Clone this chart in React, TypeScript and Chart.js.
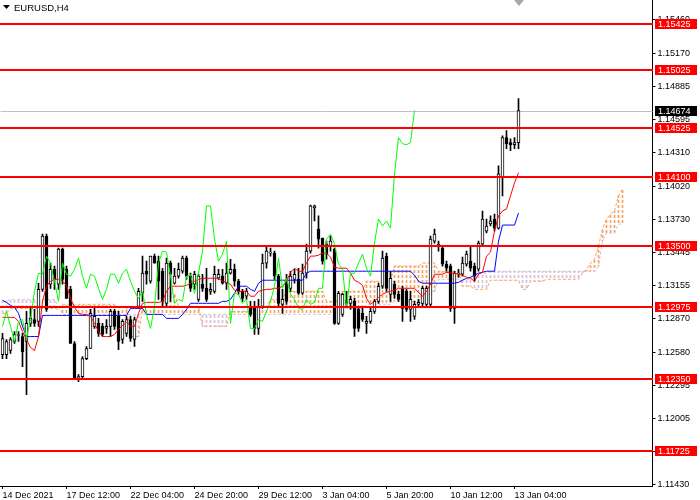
import { useEffect, useRef } from 'react';
import { Chart, registerables } from 'chart.js';

Chart.register(...registerables);

// --- chart data (EURUSD H4) ---
const symbolTitle = 'EURUSD,H4';
const xTickLabels = ['14 Dec 2021', '17 Dec 12:00', '22 Dec 04:00', '24 Dec 20:00', '29 Dec 12:00', '3 Jan 04:00', '5 Jan 20:00', '10 Jan 12:00', '13 Jan 04:00'];
const X_TICK_STEP = 16;
const BAR_SLOTS = 163;
const CHIKOU_SHIFT = 26;
const Y_MIN = 1.11421;
const Y_MAX = 1.15632;

const yTicks = [1.1143, 1.1172, 1.12005, 1.12295, 1.1258, 1.1287, 1.13155, 1.13445, 1.1373, 1.1402, 1.1431, 1.14595, 1.14885, 1.1517, 1.1546];
const levels = [1.15425, 1.15025, 1.14525, 1.141, 1.135, 1.12975, 1.1235, 1.11725];

const opens = [
  1.12560, 1.12560, 1.12595, 1.12673, 1.12725, 1.12716, 1.12673, 1.12830, 1.12864, 1.12847,
  1.13125, 1.13587, 1.13169, 1.13299, 1.13169, 1.13473, 1.13299, 1.13125, 1.12656, 1.12351,
  1.12368, 1.12525, 1.12612, 1.12804, 1.12830, 1.12804, 1.12786, 1.12804, 1.12934, 1.12891,
  1.12690, 1.12743, 1.12864, 1.12690, 1.12978, 1.13091, 1.13282, 1.13195, 1.13413, 1.13369,
  1.13282, 1.13004, 1.13352, 1.13178, 1.13239, 1.13282, 1.13395, 1.13239, 1.13169, 1.13038,
  1.13169, 1.13134, 1.13108, 1.13108, 1.13221, 1.13239, 1.13178, 1.13265, 1.13299, 1.13195,
  1.13108, 1.13065, 1.12978, 1.12978, 1.12786, 1.12978, 1.13352, 1.13439, 1.13439, 1.13239,
  1.12995, 1.13195, 1.13134, 1.13212, 1.13212, 1.13091, 1.13265, 1.13456, 1.13830, 1.13647,
  1.13569, 1.13517, 1.13500, 1.13473, 1.12830, 1.12908, 1.13038, 1.13004, 1.13021, 1.12951,
  1.12917, 1.12830, 1.12847, 1.12934, 1.13021, 1.13152, 1.13413, 1.13082, 1.13169, 1.13082,
  1.13125, 1.13108, 1.12951, 1.12891, 1.12995, 1.13004, 1.12995, 1.12995, 1.13543, 1.13500,
  1.13482, 1.13343, 1.13326, 1.12960, 1.13256, 1.13256, 1.13343, 1.13369, 1.13326, 1.13299,
  1.13517, 1.13630, 1.13691, 1.13734, 1.13656, 1.14091, 1.14439, 1.14396, 1.14378, 1.14396,
];
const highs = [
  1.12743, 1.12690, 1.12708, 1.12760, 1.12760, 1.12743, 1.12934, 1.12960, 1.12951, 1.13178,
  1.13604, 1.13604, 1.13352, 1.13326, 1.13482, 1.13482, 1.13326, 1.13152, 1.12673, 1.12386,
  1.12543, 1.12630, 1.12951, 1.12960, 1.12873, 1.12830, 1.12864, 1.12951, 1.12951, 1.12934,
  1.12864, 1.12891, 1.12891, 1.12882, 1.13134, 1.13413, 1.13369, 1.13413, 1.13430, 1.13413,
  1.13308, 1.13395, 1.13369, 1.13308, 1.13352, 1.13413, 1.13413, 1.13265, 1.13282, 1.13256,
  1.13256, 1.13308, 1.13178, 1.13326, 1.13299, 1.13299, 1.13352, 1.13386, 1.13343, 1.13212,
  1.13125, 1.13134, 1.13021, 1.13021, 1.13038, 1.13430, 1.13500, 1.13482, 1.13456, 1.13256,
  1.13125, 1.13256, 1.13282, 1.13299, 1.13308, 1.13343, 1.13517, 1.13856, 1.13856, 1.13761,
  1.13569, 1.13543, 1.13587, 1.13482, 1.13108, 1.13091, 1.13108, 1.13065, 1.13047, 1.12978,
  1.12978, 1.12891, 1.12960, 1.13038, 1.13178, 1.13456, 1.13439, 1.13282, 1.13195, 1.13108,
  1.13152, 1.13125, 1.13108, 1.13021, 1.13038, 1.13152, 1.13152, 1.13587, 1.13647, 1.13543,
  1.13500, 1.13369, 1.13343, 1.13282, 1.13299, 1.13404, 1.13456, 1.13500, 1.13352, 1.13543,
  1.13804, 1.13734, 1.13761, 1.13778, 1.14196, 1.14456, 1.14500, 1.14430, 1.14439, 1.14778,
];
const lows = [
  1.12525, 1.12525, 1.12569, 1.12656, 1.12673, 1.12456, 1.12212, 1.12804, 1.12804, 1.12804,
  1.13108, 1.12934, 1.13134, 1.13125, 1.13125, 1.13169, 1.13047, 1.12656, 1.12342, 1.12325,
  1.12351, 1.12516, 1.12612, 1.12786, 1.12716, 1.12716, 1.12743, 1.12716, 1.12777, 1.12603,
  1.12656, 1.12716, 1.12673, 1.12630, 1.12960, 1.13021, 1.13169, 1.13178, 1.13352, 1.13038,
  1.12978, 1.12978, 1.13021, 1.13169, 1.13221, 1.13265, 1.13212, 1.13108, 1.13125, 1.13021,
  1.13108, 1.13021, 1.13082, 1.13091, 1.13212, 1.13169, 1.13125, 1.13256, 1.13152, 1.13082,
  1.13021, 1.13038, 1.12891, 1.12734, 1.12734, 1.12960, 1.13308, 1.13413, 1.13212, 1.12978,
  1.12917, 1.12995, 1.13108, 1.13178, 1.13082, 1.13082, 1.13221, 1.13439, 1.13717, 1.13482,
  1.13343, 1.13386, 1.13456, 1.12821, 1.12821, 1.12891, 1.12978, 1.12951, 1.12716, 1.12760,
  1.12847, 1.12743, 1.12830, 1.12917, 1.13004, 1.13134, 1.13108, 1.13021, 1.13047, 1.13021,
  1.12847, 1.12934, 1.12847, 1.12864, 1.12978, 1.12978, 1.12978, 1.12978, 1.13526, 1.13456,
  1.13326, 1.13282, 1.12934, 1.12830, 1.13230, 1.13239, 1.13326, 1.13282, 1.13195, 1.13282,
  1.13500, 1.13613, 1.13674, 1.13630, 1.13647, 1.13935, 1.14343, 1.14326, 1.14343, 1.14343,
];
const closes = [
  1.12699, 1.12673, 1.12690, 1.12734, 1.12734, 1.12586, 1.12830, 1.12873, 1.12830, 1.13125,
  1.13587, 1.12951, 1.13299, 1.13212, 1.13473, 1.13212, 1.13047, 1.12656, 1.12351, 1.12368,
  1.12525, 1.12612, 1.12917, 1.12891, 1.12743, 1.12734, 1.12804, 1.12934, 1.12804, 1.12673,
  1.12847, 1.12864, 1.12699, 1.12864, 1.13108, 1.13265, 1.13256, 1.13413, 1.13352, 1.13195,
  1.13021, 1.13352, 1.13256, 1.13239, 1.13299, 1.13395, 1.13239, 1.13134, 1.13256, 1.13239,
  1.13134, 1.13038, 1.13125, 1.13256, 1.13256, 1.13178, 1.13265, 1.13299, 1.13195, 1.13108,
  1.13047, 1.13108, 1.12908, 1.12786, 1.12978, 1.13352, 1.13456, 1.13447, 1.13239, 1.13004,
  1.13038, 1.13021, 1.13239, 1.13256, 1.13091, 1.13265, 1.13456, 1.13848, 1.13848, 1.13560,
  1.13369, 1.13430, 1.13543, 1.12830, 1.13091, 1.13082, 1.13004, 1.13038, 1.12786, 1.12786,
  1.12864, 1.12847, 1.12934, 1.13021, 1.13152, 1.13395, 1.13134, 1.13221, 1.13082, 1.13038,
  1.12960, 1.12951, 1.13038, 1.12995, 1.13012, 1.13134, 1.13134, 1.13560, 1.13604, 1.13517,
  1.13343, 1.13308, 1.12960, 1.13265, 1.13265, 1.13352, 1.13430, 1.13308, 1.13239, 1.13526,
  1.13734, 1.13674, 1.13717, 1.13656, 1.14126, 1.14439, 1.14387, 1.14378, 1.14396, 1.14674,
];

const tenkan = [
  1.12882, 1.12882, 1.12882, 1.12882, 1.12847, 1.12760, 1.12690, 1.12621, 1.12595, 1.12716,
  1.13021, 1.13152, 1.13195, 1.13212, 1.13212, 1.13195, 1.13160, 1.13047, 1.12969, 1.12917,
  1.12908, 1.12908, 1.12891, 1.12830, 1.12760, 1.12716, 1.12716, 1.12716, 1.12734, 1.12777,
  1.12812, 1.12838, 1.12804, 1.12804, 1.12917, 1.13004, 1.13012, 1.13012, 1.13012, 1.13012,
  1.13021, 1.13108, 1.13152, 1.13152, 1.13152, 1.13152, 1.13160, 1.13178, 1.13195, 1.13212,
  1.13221, 1.13221, 1.13221, 1.13221, 1.13221, 1.13195, 1.13186, 1.13169, 1.13117, 1.13108,
  1.13108, 1.13108, 1.13065, 1.13065, 1.13108, 1.13117, 1.13125, 1.13125, 1.13134, 1.13134,
  1.13152, 1.13195, 1.13273, 1.13308, 1.13282, 1.13282, 1.13352, 1.13413, 1.13413, 1.13421,
  1.13439, 1.13439, 1.13404, 1.13317, 1.13308, 1.13308, 1.13308, 1.13265, 1.13204, 1.13186,
  1.13160, 1.13047, 1.12995, 1.13021, 1.13056, 1.13082, 1.13099, 1.13108, 1.13117, 1.13134,
  1.13134, 1.13134, 1.13134, 1.13134, 1.13099, 1.13065, 1.13108, 1.13169, 1.13256, 1.13256,
  1.13256, 1.13273, 1.13265, 1.13265, 1.13256, 1.13247, 1.13230, 1.13221, 1.13195, 1.13256,
  1.13273, 1.13413, 1.13447, 1.13630, 1.13761, 1.13804, 1.13821, 1.13935, 1.14048, 1.14135,
];
const kijun = [
  1.13030, 1.13012, 1.12986, 1.12969, 1.12917, 1.12804, 1.12716, 1.12716, 1.12716, 1.12716,
  1.12899, 1.12899, 1.12899, 1.12899, 1.12899, 1.12899, 1.12899, 1.12899, 1.12899, 1.12899,
  1.12899, 1.12899, 1.12899, 1.12899, 1.12899, 1.12899, 1.12899, 1.12899, 1.12899, 1.12899,
  1.12899, 1.12899, 1.12960, 1.12960, 1.12960, 1.12960, 1.12908, 1.12908, 1.12908, 1.12908,
  1.12908, 1.12873, 1.12873, 1.12873, 1.12873, 1.12908, 1.12951, 1.13004, 1.13004, 1.13004,
  1.13004, 1.13004, 1.13004, 1.13004, 1.13004, 1.13021, 1.13021, 1.13038, 1.13091, 1.13152,
  1.13152, 1.13152, 1.13125, 1.13108, 1.13178, 1.13204, 1.13204, 1.13204, 1.13204, 1.13204,
  1.13204, 1.13204, 1.13204, 1.13204, 1.13204, 1.13204, 1.13265, 1.13282, 1.13282, 1.13282,
  1.13282, 1.13282, 1.13282, 1.13282, 1.13282, 1.13282, 1.13282, 1.13282, 1.13282, 1.13282,
  1.13282, 1.13282, 1.13282, 1.13282, 1.13282, 1.13282, 1.13282, 1.13282, 1.13282, 1.13282,
  1.13282, 1.13282, 1.13282, 1.13247, 1.13195, 1.13178, 1.13178, 1.13178, 1.13178, 1.13178,
  1.13178, 1.13178, 1.13178, 1.13178, 1.13186, 1.13204, 1.13221, 1.13230, 1.13247, 1.13265,
  1.13273, 1.13282, 1.13282, 1.13282, 1.13543, 1.13682, 1.13682, 1.13682, 1.13682, 1.13787,
];
const senkouA = [
  1.12917, 1.12917, 1.12960, 1.12960, 1.12960, 1.12960, 1.12960, 1.12960, 1.12960, 1.12960,
  1.12960, 1.12960, 1.12960, 1.12960, 1.12951, 1.12995, 1.12995, 1.12995, 1.12995, 1.12995,
  1.12995, 1.12995, 1.12995, 1.12995, 1.12995, 1.12995, 1.12995, 1.12995, 1.12995, 1.12969,
  1.12969, 1.12969, 1.12716, 1.12716, 1.12716, 1.12969, 1.12969, 1.12969, 1.12969, 1.12969,
  1.12969, 1.13091, 1.13091, 1.13091, 1.12978, 1.12978, 1.12978, 1.12978, 1.12978, 1.12978,
  1.12804, 1.12804, 1.12804, 1.12804, 1.12804, 1.12804, 1.12804, 1.12934, 1.12934, 1.12934,
  1.12934, 1.12934, 1.12934, 1.12978, 1.12978, 1.12978, 1.12978, 1.13038, 1.13038, 1.13038,
  1.13038, 1.13108, 1.13108, 1.13108, 1.13108, 1.13108, 1.13108, 1.13108, 1.13108, 1.13108,
  1.13108, 1.13021, 1.13021, 1.13021, 1.13021, 1.13108, 1.13108, 1.13108, 1.13108, 1.13108,
  1.13108, 1.13195, 1.13195, 1.13195, 1.13195, 1.13195, 1.13195, 1.13195, 1.13326, 1.13326,
  1.13326, 1.13326, 1.13326, 1.13326, 1.13326, 1.13352, 1.13352, 1.13352, 1.13352, 1.13282,
  1.13282, 1.13282, 1.13282, 1.13282, 1.13282, 1.13152, 1.13152, 1.13152, 1.13125, 1.13125,
  1.13125, 1.13125, 1.13204, 1.13204, 1.13204, 1.13204, 1.13204, 1.13204, 1.13204, 1.13204,
  1.13125, 1.13125, 1.13195, 1.13195, 1.13195, 1.13195, 1.13212, 1.13212, 1.13212, 1.13212,
  1.13212, 1.13212, 1.13212, 1.13212, 1.13212, 1.13265, 1.13299, 1.13352, 1.13386, 1.13500,
  1.13647, 1.13734, 1.13778, 1.13804, 1.13935, 1.13995,
];
const senkouB = [
  1.13021, 1.13021, 1.13038, 1.13038, 1.13038, 1.13038, 1.13038, 1.13038, 1.13038, 1.13038,
  1.13038, 1.13038, 1.13038, 1.13038, 1.12978, 1.12908, 1.12908, 1.12908, 1.12908, 1.12908,
  1.12908, 1.12908, 1.12908, 1.12908, 1.12908, 1.12908, 1.12908, 1.12908, 1.12908, 1.12908,
  1.12908, 1.12908, 1.12908, 1.12908, 1.12908, 1.12908, 1.12908, 1.12908, 1.12908, 1.12908,
  1.12908, 1.12908, 1.12908, 1.12908, 1.12908, 1.12908, 1.12908, 1.12908, 1.12908, 1.12908,
  1.12908, 1.12908, 1.12908, 1.12908, 1.12908, 1.12908, 1.12908, 1.12908, 1.12908, 1.12908,
  1.12908, 1.12908, 1.12908, 1.12908, 1.12908, 1.12908, 1.12908, 1.12908, 1.12908, 1.12908,
  1.12908, 1.12908, 1.12908, 1.12908, 1.12908, 1.12908, 1.12908, 1.12908, 1.12908, 1.12908,
  1.12908, 1.12908, 1.12908, 1.12908, 1.12908, 1.12960, 1.12960, 1.12960, 1.12960, 1.12960,
  1.12960, 1.12995, 1.12995, 1.12995, 1.12995, 1.12995, 1.12995, 1.12995, 1.13021, 1.13021,
  1.13021, 1.13021, 1.13021, 1.13021, 1.13021, 1.13108, 1.13108, 1.13108, 1.13108, 1.13212,
  1.13212, 1.13212, 1.13212, 1.13212, 1.13212, 1.13212, 1.13212, 1.13212, 1.13265, 1.13265,
  1.13265, 1.13265, 1.13282, 1.13282, 1.13282, 1.13282, 1.13282, 1.13282, 1.13282, 1.13282,
  1.13282, 1.13282, 1.13282, 1.13282, 1.13282, 1.13282, 1.13282, 1.13282, 1.13282, 1.13282,
  1.13282, 1.13282, 1.13282, 1.13282, 1.13282, 1.13282, 1.13282, 1.13282, 1.13282, 1.13326,
  1.13543, 1.13613, 1.13613, 1.13613, 1.13691, 1.13691,
];

const FONT = '"Liberation Sans", Arial, sans-serif';

// levels, price boxes, current price line and the title are painted on top
const overlayPlugin = {
  id: 'mt4Overlay',
  beforeDatasetsDraw(chart: any) {
    const { ctx, chartArea, scales } = chart;
    const last = closes[closes.length - 1];
    const y = Math.round(scales.y.getPixelForValue(last)) + 0.5;
    ctx.save();
    ctx.strokeStyle = '#c0c0c0';
    ctx.lineWidth = 1;
    ctx.beginPath();
    ctx.moveTo(chartArea.left, y);
    ctx.lineTo(chartArea.right, y);
    ctx.stroke();
    ctx.restore();
  },
  afterDraw(chart: any) {
    const { ctx, chartArea, scales } = chart;
    ctx.save();
    ctx.font = `9px ${FONT}`;
    ctx.textBaseline = 'middle';
    const boxX = Math.round(chartArea.right) + 2;

    levels.forEach((lv) => {
      const y = Math.round(scales.y.getPixelForValue(lv));
      ctx.fillStyle = '#ff0000';
      ctx.fillRect(0, y - 1, Math.round(chartArea.right), 2);
      ctx.fillRect(boxX, y - 5, 42, 10);
      ctx.fillStyle = '#ffffff';
      ctx.fillText(lv.toFixed(5), boxX + 3, y + 0.5);
    });

    const last = closes[closes.length - 1];
    const cy = Math.round(scales.y.getPixelForValue(last));
    ctx.fillStyle = '#000000';
    ctx.fillRect(boxX, cy - 5, 42, 10);
    ctx.fillStyle = '#ffffff';
    ctx.fillText(last.toFixed(5), boxX + 3, cy + 0.5);

    // title with the small drop-down arrow
    ctx.fillStyle = '#000000';
    ctx.beginPath();
    ctx.moveTo(3, 5);
    ctx.lineTo(10, 5);
    ctx.lineTo(6.5, 9);
    ctx.closePath();
    ctx.fill();
    ctx.font = `9.5px ${FONT}`;
    ctx.fillText(symbolTitle, 14, 8);

    // chart shift marker
    ctx.fillStyle = '#a8a8a8';
    ctx.beginPath();
    ctx.moveTo(514, 0);
    ctx.lineTo(524, 0);
    ctx.lineTo(519, 6);
    ctx.closePath();
    ctx.fill();
    ctx.restore();
  },
};

function hatch(ctx: CanvasRenderingContext2D, color: string) {
  const c = document.createElement('canvas');
  c.width = 1;
  c.height = 5;
  const g = c.getContext('2d');
  if (g) {
    g.fillStyle = color;
    g.fillRect(0, 0, 1, 3);
  }
  return ctx.createPattern(c, 'repeat') || color;
}

export default function App() {
  const canvasRef = useRef<HTMLCanvasElement>(null);
  const chartInstance = useRef<Chart | null>(null);

  useEffect(() => {
    document.body.style.margin = '0';
    if (!canvasRef.current) return;
    const ctx = canvasRef.current.getContext('2d');
    if (!ctx) return;

    const upKumo = hatch(ctx, '#f4a460');
    const downKumo = hatch(ctx, '#d8bfd8');
    const slotLabels = Array.from({ length: BAR_SLOTS }, (_, i) => String(i));

    if (chartInstance.current) chartInstance.current.destroy();

    chartInstance.current = new Chart(ctx, {
      type: 'bar',
      data: {
        labels: slotLabels,
        datasets: [
          {
            type: 'line',
            label: 'Chikou Span',
            data: closes.slice(CHIKOU_SHIFT),
            borderColor: '#00ff00',
            borderWidth: 1,
            pointRadius: 0,
            order: 0,
          },
          {
            type: 'line',
            label: 'Tenkan-sen',
            data: tenkan,
            borderColor: '#ff0000',
            borderWidth: 1,
            pointRadius: 0,
            order: 1,
          },
          {
            type: 'line',
            label: 'Kijun-sen',
            data: kijun,
            borderColor: '#0000ff',
            borderWidth: 1,
            pointRadius: 0,
            order: 2,
          },
          {
            type: 'bar',
            label: 'Body',
            data: opens.map((o, i) => [o, closes[i]]),
            backgroundColor: closes.map((c, i) => (c >= opens[i] ? '#ffffff' : '#000000')),
            borderColor: '#000000',
            borderWidth: 1,
            borderSkipped: false,
            barThickness: 3,
            minBarLength: 1,
            grouped: false,
            order: 3,
          },
          {
            type: 'bar',
            label: 'Wick',
            data: lows.map((l, i) => [l, highs[i]]),
            backgroundColor: '#000000',
            barThickness: 1,
            grouped: false,
            order: 4,
          },
          {
            type: 'line',
            label: 'Senkou Span A',
            data: senkouA,
            borderColor: '#f4a460',
            borderWidth: 1,
            borderDash: [3, 2],
            pointRadius: 0,
            order: 5,
          },
          {
            type: 'line',
            label: 'Senkou Span B',
            data: senkouB,
            borderColor: '#d8bfd8',
            borderWidth: 1,
            borderDash: [3, 2],
            pointRadius: 0,
            order: 6,
          },
          {
            type: 'bar',
            label: 'Kumo',
            data: senkouA.map((a, i) => [a, senkouB[i]]),
            backgroundColor: senkouA.map((a, i) => (a >= senkouB[i] ? upKumo : downKumo)),
            barThickness: 1,
            grouped: false,
            order: 7,
          },
        ] as any,
      },
      options: {
        responsive: false,
        animation: false,
        events: [],
        layout: { padding: { left: 0.5, top: 0, right: 0, bottom: 0 } },
        plugins: {
          legend: { display: false },
          tooltip: { enabled: false },
        },
        scales: {
          x: {
            type: 'category',
            offset: true,
            grid: { display: true, drawOnChartArea: false, drawTicks: true, tickLength: 3, color: '#000000', offset: false },
            border: { display: true, color: '#000000' },
            ticks: {
              autoSkip: false,
              maxRotation: 0,
              minRotation: 0,
              align: 'start',
              padding: 1,
              color: '#000000',
              font: { family: FONT, size: 9 },
              callback: (v: any) => xTickLabels[Number(v) / X_TICK_STEP],
            },
            afterBuildTicks: (s: any) => {
              s.ticks = xTickLabels.map((_, k) => ({ value: k * X_TICK_STEP }));
            },
            afterFit: (s: any) => {
              s.height = 14;
              s.paddingLeft = 0;
              s.paddingRight = 0;
            },
          },
          y: {
            position: 'right',
            min: Y_MIN,
            max: Y_MAX,
            grid: { display: true, drawOnChartArea: false, drawTicks: true, tickLength: 3, color: '#000000' },
            border: { display: true, color: '#000000' },
            ticks: {
              padding: 2,
              color: '#000000',
              font: { family: FONT, size: 9 },
              callback: (v: any) => Number(v).toFixed(5),
            },
            afterBuildTicks: (s: any) => {
              s.ticks = yTicks.map((v) => ({ value: v }));
            },
            afterFit: (s: any) => {
              s.width = 47.5;
              s.paddingTop = 0;
              s.paddingBottom = 0;
            },
          },
        },
      } as any,
      plugins: [overlayPlugin],
    });

    return () => {
      if (chartInstance.current) chartInstance.current.destroy();
      chartInstance.current = null;
    };
  }, []);

  return (
    <div style={{ width: 700, height: 500, background: '#ffffff' }}>
      <canvas ref={canvasRef} width={700} height={500} style={{ display: 'block' }}></canvas>
    </div>
  );
}
